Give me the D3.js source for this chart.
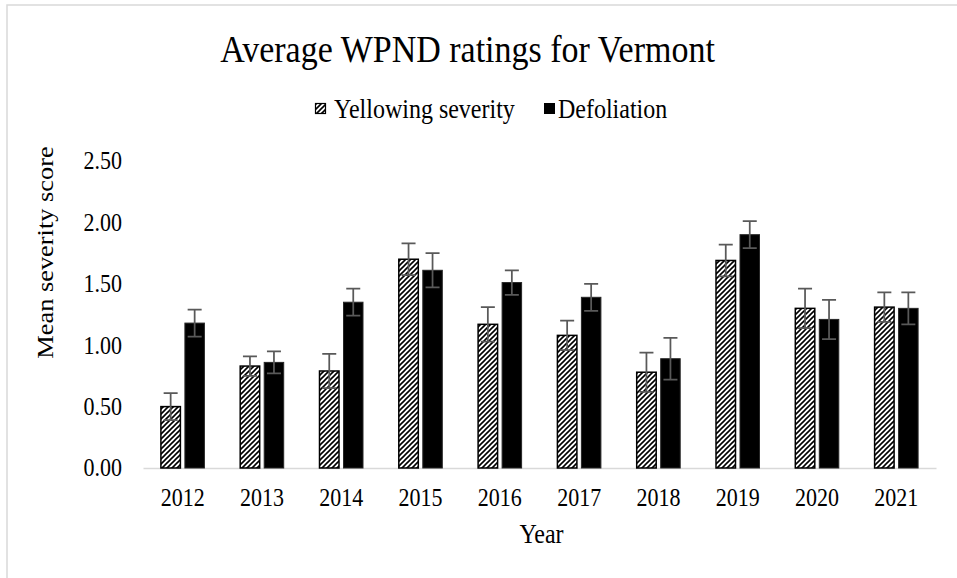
<!DOCTYPE html>
<html>
<head>
<meta charset="utf-8">
<script src="https://cdn.jsdelivr.net/npm/d3@7"></script>
<style>
  body { margin: 0; background: #fff; }
  svg { display: block; }
  text { font-family: "Liberation Serif", "Times New Roman", serif; fill: #000; }
</style>
</head>
<body>
<div id="chart"></div>
<script>
// Data
const years = ["2012", "2013", "2014", "2015", "2016", "2017", "2018", "2019", "2020", "2021"];
const yellowing = [0.50, 0.83, 0.79, 1.70, 1.17, 1.08, 0.78, 1.69, 1.30, 1.31];
const yellowingErr = [0.11, 0.08, 0.14, 0.13, 0.14, 0.12, 0.16, 0.13, 0.16, 0.12];
const defoliation = [1.18, 0.86, 1.35, 1.61, 1.51, 1.39, 0.89, 1.90, 1.21, 1.30];
const defoliationErr = [0.11, 0.09, 0.11, 0.14, 0.10, 0.11, 0.17, 0.11, 0.16, 0.13];
const yTicks = [0, 0.5, 1, 1.5, 2, 2.5];
const seriesNames = ["Yellowing severity", "Defoliation"];

const width = 957, height = 578;
const stretch = 1.1; // text in the picture is a bit taller than wide

const svg = d3.select("#chart").append("svg")
    .attr("width", width)
    .attr("height", height);

// hatch pattern for yellowing bars
const pattern = svg.append("defs").append("pattern")
    .attr("id", "hatch")
    .attr("patternUnits", "userSpaceOnUse")
    .attr("width", 5)
    .attr("height", 5);
pattern.append("rect").attr("width", 5).attr("height", 5).attr("fill", "#fff");
pattern.append("path")
    .attr("d", "M-1,1 l2,-2 M0,5 l5,-5 M4,6 l2,-2")
    .attr("stroke", "#000")
    .attr("stroke-width", 1.6);

// chart border
svg.append("rect")
    .attr("x", 7).attr("y", 5)
    .attr("width", 1000).attr("height", 600)
    .attr("fill", "none")
    .attr("stroke", "#d9d9d9")
    .attr("stroke-width", 1.5);

const x = d3.scaleBand()
    .domain(years)
    .range([143, 936]);

const y = d3.scaleLinear()
    .domain([0, 2.5])
    .range([468, 161]);

const barW = 19.5, gap = 4.5;

// stretched text helper
function addText(px, py, str, size, anchor, rot) {
    return svg.append("text")
        .attr("transform", `translate(${px},${py}) scale(1,${stretch})` + (rot ? ` rotate(${rot})` : ""))
        .attr("text-anchor", anchor)
        .attr("font-size", size)
        .text(str);
}

// Title
addText(467.5, 61.5, "Average WPND ratings for Vermont", 34, "middle");

// Legend
svg.append("rect")
    .attr("x", 315.5).attr("y", 103.5)
    .attr("width", 10).attr("height", 10)
    .attr("fill", "url(#hatch)")
    .attr("stroke", "#000")
    .attr("stroke-width", 1.2);
addText(334, 118, seriesNames[0], 24, "start");
svg.append("rect")
    .attr("x", 544).attr("y", 103)
    .attr("width", 11).attr("height", 11)
    .attr("fill", "#000");
addText(558, 118, seriesNames[1], 24, "start");

// Y axis (labels only)
const yAxis = svg.append("g")
    .attr("transform", "translate(122,0)")
    .call(d3.axisLeft(y).tickValues(yTicks).tickFormat(d3.format(".2f")).tickSize(0).tickPadding(0));
yAxis.select(".domain").remove();
yAxis.selectAll("text")
    .attr("font-size", 22)
    .attr("font-family", null)
    .attr("dy", "0.33em")
    .attr("transform", `scale(1,${stretch})`);

// X axis with baseline
const xAxis = svg.append("g")
    .attr("transform", "translate(0,468)")
    .call(d3.axisBottom(x).tickSize(0).tickSizeOuter(0));
xAxis.select(".domain")
    .attr("stroke", "#d9d9d9")
    .attr("stroke-width", 1.5);
xAxis.selectAll("text")
    .attr("font-size", 22)
    .attr("font-family", null)
    .attr("dy", null)
    .attr("y", 38 / stretch)
    .attr("transform", `scale(1,${stretch})`);

// Axis titles
addText(53, 252.5, "Mean severity score", 24, "middle", -90);
addText(541.5, 542.5, "Year", 24, "middle");

// Bars
const bars = svg.append("g");
bars.selectAll("rect.yel")
    .data(years)
    .join("rect")
    .attr("class", "yel")
    .attr("x", d => x(d) + x.bandwidth() / 2 - gap / 2 - barW)
    .attr("y", (d, i) => y(yellowing[i]))
    .attr("width", barW)
    .attr("height", (d, i) => y(0) - y(yellowing[i]))
    .attr("fill", "url(#hatch)")
    .attr("stroke", "#000")
    .attr("stroke-width", 1.5);

bars.selectAll("rect.def")
    .data(years)
    .join("rect")
    .attr("class", "def")
    .attr("x", d => x(d) + x.bandwidth() / 2 + gap / 2)
    .attr("y", (d, i) => y(defoliation[i]))
    .attr("width", barW)
    .attr("height", (d, i) => y(0) - y(defoliation[i]))
    .attr("fill", "#000")
    .attr("stroke", "#262626")
    .attr("stroke-width", 1);

// Error bars
const errData = [];
years.forEach((yr, i) => {
    errData.push({ cx: x(yr) + x.bandwidth() / 2 - gap / 2 - barW / 2, v: yellowing[i], e: yellowingErr[i] });
    errData.push({ cx: x(yr) + x.bandwidth() / 2 + gap / 2 + barW / 2, v: defoliation[i], e: defoliationErr[i] });
});
const capW = 7;
const errG = svg.append("g")
    .attr("stroke", "#595959")
    .attr("stroke-width", 1.75)
    .attr("fill", "none");
errG.selectAll("path")
    .data(errData)
    .join("path")
    .attr("d", d => {
        const t = y(d.v + d.e), b = y(d.v - d.e);
        return `M${d.cx},${t}V${b}M${d.cx - capW},${t}H${d.cx + capW}M${d.cx - capW},${b}H${d.cx + capW}`;
    });
</script>
</body>
</html>
